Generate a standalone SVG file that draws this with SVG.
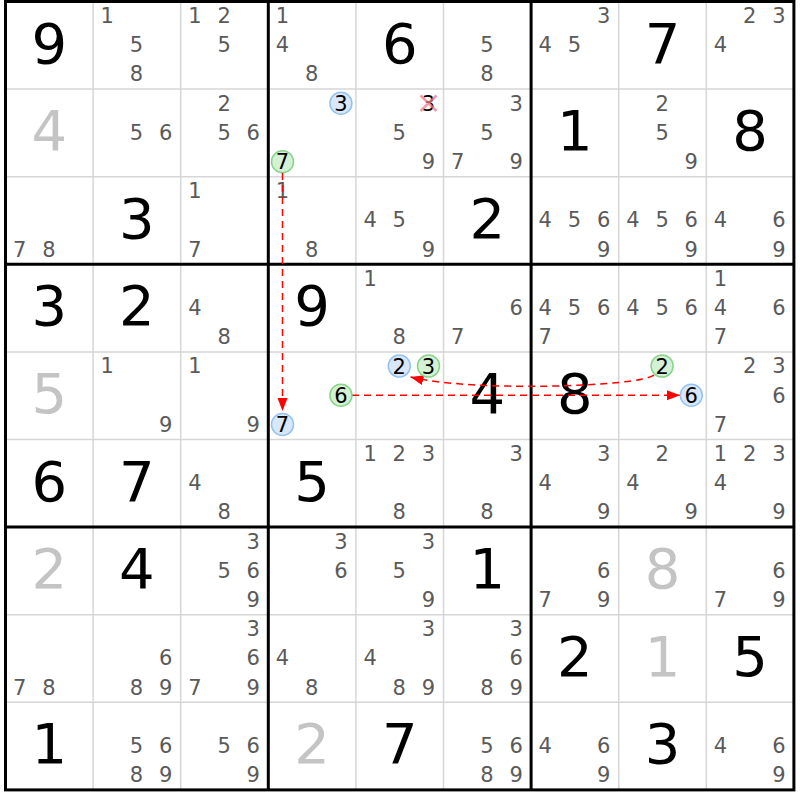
<svg xmlns="http://www.w3.org/2000/svg" width="800" height="800" viewBox="0 0 800 800">
<style>
text{font-family:"DejaVu Sans","Liberation Sans",sans-serif;text-anchor:middle}
.c{font-size:21px;fill:#5a5a5a}
.b{font-size:56px;fill:#000}
.g{font-size:56px;fill:#c4c4c4}
.k{font-size:21px;fill:#000}
.thin{stroke:#d6d6d6;stroke-width:1.5}
.thick{stroke:#000;stroke-width:3;fill:none}
.cb{fill:#d8e7fa;stroke:#94c3f3;stroke-width:1.5}
.cg{fill:#d5f1d5;stroke:#88d488;stroke-width:1.5}
.lk{stroke:#f00;stroke-width:1.5;stroke-dasharray:7,5;fill:none;marker-end:url(#ah)}
</style>
<defs>
<marker id="ah" markerUnits="userSpaceOnUse" markerWidth="14" markerHeight="12" refX="13" refY="5" orient="auto"><path d="M0,0 L13,5 L0,10 z" fill="#f00"/></marker>
</defs>
<rect width="800" height="800" fill="#fff"/>
<g id="grid">
<path class="thin" d="M93.1 1.5V789.9M180.7 1.5V789.9M355.9 1.5V789.9M443.5 1.5V789.9M618.7 1.5V789.9M706.3 1.5V789.9M5.5 89.1H793.9M5.5 176.7H793.9M5.5 351.9H793.9M5.5 439.5H793.9M5.5 614.7H793.9M5.5 702.3H793.9"/>
<path class="thick" d="M268.3 1.5V789.9M531.1 1.5V789.9M5.5 264.3H793.9M5.5 527.1H793.9"/>
<rect class="thick" x="5.5" y="1.5" width="788.4" height="788.4"/>
</g>
<g id="r0c0"><text class="b" x="49.3" y="62.5">9</text></g>
<g id="r0c1"><text class="c" x="107.3" y="23">1</text><text class="c" x="136.5" y="52.2">5</text><text class="c" x="136.5" y="81.4">8</text></g>
<g id="r0c2"><text class="c" x="194.9" y="23">1</text><text class="c" x="224.1" y="23">2</text><text class="c" x="224.1" y="52.2">5</text></g>
<g id="r0c3"><text class="c" x="282.5" y="23">1</text><text class="c" x="282.5" y="52.2">4</text><text class="c" x="311.7" y="81.4">8</text></g>
<g id="r0c4"><text class="b" x="399.7" y="62.5">6</text></g>
<g id="r0c5"><text class="c" x="486.9" y="52.2">5</text><text class="c" x="486.9" y="81.4">8</text></g>
<g id="r0c6"><text class="c" x="603.7" y="23">3</text><text class="c" x="545.3" y="52.2">4</text><text class="c" x="574.5" y="52.2">5</text></g>
<g id="r0c7"><text class="b" x="662.5" y="62.5">7</text></g>
<g id="r0c8"><text class="c" x="749.7" y="23">2</text><text class="c" x="778.9" y="23">3</text><text class="c" x="720.5" y="52.2">4</text></g>

<g id="r1c0"><text class="g" x="49.3" y="150.1">4</text></g>
<g id="r1c1"><text class="c" x="136.5" y="139.8">5</text><text class="c" x="165.7" y="139.8">6</text></g>
<g id="r1c2"><text class="c" x="224.1" y="110.6">2</text><text class="c" x="224.1" y="139.8">5</text><text class="c" x="253.3" y="139.8">6</text></g>
<g id="r1c3"><circle class="cb" cx="340.9" cy="103.3" r="11"/><text class="k" x="340.9" y="110.8">3</text><circle class="cg" cx="282.5" cy="161.7" r="11"/><text class="k" x="282.5" y="169.2">7</text></g>
<g id="r1c4"><text class="k" x="428.5" y="110.8" fill="#222">3</text><path d="M420.5 95.5L436.5 111M436.5 95.5L420.5 111" stroke="#f07888" stroke-opacity="0.75" stroke-width="2.5"/><text class="c" x="399.3" y="139.8">5</text><text class="c" x="428.5" y="169">9</text></g>
<g id="r1c5"><text class="c" x="516.1" y="110.6">3</text><text class="c" x="486.9" y="139.8">5</text><text class="c" x="457.7" y="169">7</text><text class="c" x="516.1" y="169">9</text></g>
<g id="r1c6"><text class="b" x="574.9" y="150.1">1</text></g>
<g id="r1c7"><text class="c" x="662.1" y="110.6">2</text><text class="c" x="662.1" y="139.8">5</text><text class="c" x="691.3" y="169">9</text></g>
<g id="r1c8"><text class="b" x="750.1" y="150.1">8</text></g>

<g id="r2c0"><text class="c" x="19.7" y="256.6">7</text><text class="c" x="48.9" y="256.6">8</text></g>
<g id="r2c1"><text class="b" x="136.9" y="237.7">3</text></g>
<g id="r2c2"><text class="c" x="194.9" y="198.2">1</text><text class="c" x="194.9" y="256.6">7</text></g>
<g id="r2c3"><text class="c" x="282.5" y="198.2">1</text><text class="c" x="311.7" y="256.6">8</text></g>
<g id="r2c4"><text class="c" x="370.1" y="227.4">4</text><text class="c" x="399.3" y="227.4">5</text><text class="c" x="428.5" y="256.6">9</text></g>
<g id="r2c5"><text class="b" x="487.3" y="237.7">2</text></g>
<g id="r2c6"><text class="c" x="545.3" y="227.4">4</text><text class="c" x="574.5" y="227.4">5</text><text class="c" x="603.7" y="227.4">6</text><text class="c" x="603.7" y="256.6">9</text></g>
<g id="r2c7"><text class="c" x="632.9" y="227.4">4</text><text class="c" x="662.1" y="227.4">5</text><text class="c" x="691.3" y="227.4">6</text><text class="c" x="691.3" y="256.6">9</text></g>
<g id="r2c8"><text class="c" x="720.5" y="227.4">4</text><text class="c" x="778.9" y="227.4">6</text><text class="c" x="778.9" y="256.6">9</text></g>

<g id="r3c0"><text class="b" x="49.3" y="325.3">3</text></g>
<g id="r3c1"><text class="b" x="136.9" y="325.3">2</text></g>
<g id="r3c2"><text class="c" x="194.9" y="315">4</text><text class="c" x="224.1" y="344.2">8</text></g>
<g id="r3c3"><text class="b" x="312.1" y="325.3">9</text></g>
<g id="r3c4"><text class="c" x="370.1" y="285.8">1</text><text class="c" x="399.3" y="344.2">8</text></g>
<g id="r3c5"><text class="c" x="516.1" y="315">6</text><text class="c" x="457.7" y="344.2">7</text></g>
<g id="r3c6"><text class="c" x="545.3" y="315">4</text><text class="c" x="574.5" y="315">5</text><text class="c" x="603.7" y="315">6</text><text class="c" x="545.3" y="344.2">7</text></g>
<g id="r3c7"><text class="c" x="632.9" y="315">4</text><text class="c" x="662.1" y="315">5</text><text class="c" x="691.3" y="315">6</text></g>
<g id="r3c8"><text class="c" x="720.5" y="285.8">1</text><text class="c" x="720.5" y="315">4</text><text class="c" x="778.9" y="315">6</text><text class="c" x="720.5" y="344.2">7</text></g>

<g id="r4c0"><text class="g" x="49.3" y="412.9">5</text></g>
<g id="r4c1"><text class="c" x="107.3" y="373.4">1</text><text class="c" x="165.7" y="431.8">9</text></g>
<g id="r4c2"><text class="c" x="194.9" y="373.4">1</text><text class="c" x="253.3" y="431.8">9</text></g>
<g id="r4c5"><text class="b" x="487.3" y="412.9">4</text></g>
<g id="r4c6"><text class="b" x="574.9" y="412.9">8</text></g>
<g id="r4c8"><text class="c" x="749.7" y="373.4">2</text><text class="c" x="778.9" y="373.4">3</text><text class="c" x="778.9" y="402.6">6</text><text class="c" x="720.5" y="431.8">7</text></g>

<g id="r5c0"><text class="b" x="49.3" y="500.5">6</text></g>
<g id="r5c1"><text class="b" x="136.9" y="500.5">7</text></g>
<g id="r5c2"><text class="c" x="194.9" y="490.2">4</text><text class="c" x="224.1" y="519.4">8</text></g>
<g id="r5c3"><text class="b" x="312.1" y="500.5">5</text></g>
<g id="r5c4"><text class="c" x="370.1" y="461">1</text><text class="c" x="399.3" y="461">2</text><text class="c" x="428.5" y="461">3</text><text class="c" x="399.3" y="519.4">8</text></g>
<g id="r5c5"><text class="c" x="516.1" y="461">3</text><text class="c" x="486.9" y="519.4">8</text></g>
<g id="r5c6"><text class="c" x="603.7" y="461">3</text><text class="c" x="545.3" y="490.2">4</text><text class="c" x="603.7" y="519.4">9</text></g>
<g id="r5c7"><text class="c" x="662.1" y="461">2</text><text class="c" x="632.9" y="490.2">4</text><text class="c" x="691.3" y="519.4">9</text></g>
<g id="r5c8"><text class="c" x="720.5" y="461">1</text><text class="c" x="749.7" y="461">2</text><text class="c" x="778.9" y="461">3</text><text class="c" x="720.5" y="490.2">4</text><text class="c" x="778.9" y="519.4">9</text></g>

<g id="r6c0"><text class="g" x="49.3" y="588.1">2</text></g>
<g id="r6c1"><text class="b" x="136.9" y="588.1">4</text></g>
<g id="r6c2"><text class="c" x="253.3" y="548.6">3</text><text class="c" x="224.1" y="577.8">5</text><text class="c" x="253.3" y="577.8">6</text><text class="c" x="253.3" y="607">9</text></g>
<g id="r6c3"><text class="c" x="340.9" y="548.6">3</text><text class="c" x="340.9" y="577.8">6</text></g>
<g id="r6c4"><text class="c" x="428.5" y="548.6">3</text><text class="c" x="399.3" y="577.8">5</text><text class="c" x="428.5" y="607">9</text></g>
<g id="r6c5"><text class="b" x="487.3" y="588.1">1</text></g>
<g id="r6c6"><text class="c" x="603.7" y="577.8">6</text><text class="c" x="545.3" y="607">7</text><text class="c" x="603.7" y="607">9</text></g>
<g id="r6c7"><text class="g" x="662.5" y="588.1">8</text></g>
<g id="r6c8"><text class="c" x="778.9" y="577.8">6</text><text class="c" x="720.5" y="607">7</text><text class="c" x="778.9" y="607">9</text></g>

<g id="r7c0"><text class="c" x="19.7" y="694.6">7</text><text class="c" x="48.9" y="694.6">8</text></g>
<g id="r7c1"><text class="c" x="165.7" y="665.4">6</text><text class="c" x="136.5" y="694.6">8</text><text class="c" x="165.7" y="694.6">9</text></g>
<g id="r7c2"><text class="c" x="253.3" y="636.2">3</text><text class="c" x="253.3" y="665.4">6</text><text class="c" x="194.9" y="694.6">7</text><text class="c" x="253.3" y="694.6">9</text></g>
<g id="r7c3"><text class="c" x="282.5" y="665.4">4</text><text class="c" x="311.7" y="694.6">8</text></g>
<g id="r7c4"><text class="c" x="428.5" y="636.2">3</text><text class="c" x="370.1" y="665.4">4</text><text class="c" x="399.3" y="694.6">8</text><text class="c" x="428.5" y="694.6">9</text></g>
<g id="r7c5"><text class="c" x="516.1" y="636.2">3</text><text class="c" x="516.1" y="665.4">6</text><text class="c" x="486.9" y="694.6">8</text><text class="c" x="516.1" y="694.6">9</text></g>
<g id="r7c6"><text class="b" x="574.9" y="675.7">2</text></g>
<g id="r7c7"><text class="g" x="662.5" y="675.7">1</text></g>
<g id="r7c8"><text class="b" x="750.1" y="675.7">5</text></g>

<g id="r8c0"><text class="b" x="49.3" y="763.3">1</text></g>
<g id="r8c1"><text class="c" x="136.5" y="753">5</text><text class="c" x="165.7" y="753">6</text><text class="c" x="136.5" y="782.2">8</text><text class="c" x="165.7" y="782.2">9</text></g>
<g id="r8c2"><text class="c" x="224.1" y="753">5</text><text class="c" x="253.3" y="753">6</text><text class="c" x="253.3" y="782.2">9</text></g>
<g id="r8c3"><text class="g" x="312.1" y="763.3">2</text></g>
<g id="r8c4"><text class="b" x="399.7" y="763.3">7</text></g>
<g id="r8c5"><text class="c" x="486.9" y="753">5</text><text class="c" x="516.1" y="753">6</text><text class="c" x="486.9" y="782.2">8</text><text class="c" x="516.1" y="782.2">9</text></g>
<g id="r8c6"><text class="c" x="545.3" y="753">4</text><text class="c" x="603.7" y="753">6</text><text class="c" x="603.7" y="782.2">9</text></g>
<g id="r8c7"><text class="b" x="662.5" y="763.3">3</text></g>
<g id="r8c8"><text class="c" x="720.5" y="753">4</text><text class="c" x="778.9" y="753">6</text><text class="c" x="778.9" y="782.2">9</text></g>

<g id="connectors">
<path class="lk" d="M282.5 173V411"/>
<path class="lk" d="M352 395.3H680"/>
<path class="lk" d="M654 375C640 387 470 392 410.5 377"/>
</g>
<g id="r4c3"><circle class="cg" cx="340.9" cy="395.3" r="11"/><text class="k" x="340.9" y="402.8">6</text><circle class="cb" cx="282.5" cy="424.5" r="11"/><text class="k" x="282.5" y="432">7</text></g>
<g id="r4c4"><circle class="cb" cx="399.3" cy="366.1" r="11"/><text class="k" x="399.3" y="373.6">2</text><circle class="cg" cx="428.5" cy="366.1" r="11"/><text class="k" x="428.5" y="373.6">3</text></g>
<g id="r4c7"><circle class="cg" cx="662.1" cy="366.1" r="11"/><text class="k" x="662.1" y="373.6">2</text><circle class="cb" cx="691.3" cy="395.3" r="11"/><text class="k" x="691.3" y="402.8">6</text></g>
</svg>
